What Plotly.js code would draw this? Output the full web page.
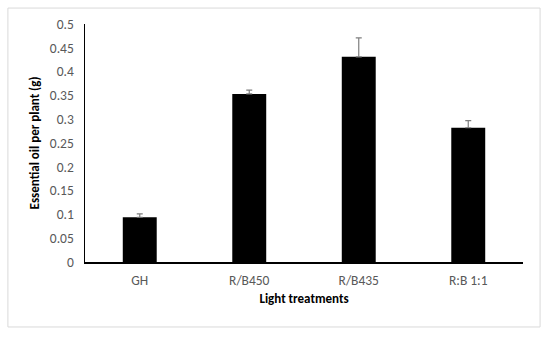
<!DOCTYPE html>
<html><head><meta charset="utf-8">
<script src="https://cdn.plot.ly/plotly-3.0.1.min.js"></script>
<style>html,body{margin:0;padding:0;background:#fff}#chart{width:550px;height:338px}</style>
</head><body><div id="chart"></div>
<script>
const categories = ["GH", "R/B450", "R/B435", "R:B 1:1"];
const values = [0.094, 0.353, 0.431, 0.282];
const errorsPlus = [0.007, 0.008, 0.040, 0.015];
const errorsMinus = [0, 0, 0, 0];

const trace = {
  type: "bar",
  x: categories,
  y: values,
  marker: {color: "#000000"},
  width: 0.31,
  error_y: {type: "data", symmetric: false, array: errorsPlus, arrayminus: errorsMinus,
    color: "#7f7f7f", thickness: 1.2, width: 3}
};
const font = "Carlito, Lato, 'Open Sans', sans-serif";
const layout = {
  width: 550, height: 338,
  margin: {l: 85, r: 27, t: 24, b: 76},
  paper_bgcolor: "#fff", plot_bgcolor: "#fff",
  showlegend: false,
  font: {family: font, size: 13, color: "#595959"},
  xaxis: {
    showline: true, linecolor: "#000", linewidth: 1.5, ticks: "outside", tickcolor: "rgba(0,0,0,0)", ticklen: 5, showgrid: false,
    tickfont: {size: 13.5, color: "#595959"},
    title: {text: "<b>Light treatments</b>", font: {size: 13, color: "#000"}, standoff: 6}
  },
  yaxis: {
    range: [0, 0.5], dtick: 0.05, showline: true, linecolor: "#000", linewidth: 1.5,
    ticks: "outside", tickcolor: "rgba(0,0,0,0)", ticklen: 7, showgrid: false, zeroline: false,
    tickfont: {size: 13.5, color: "#595959"},
    title: {text: "<b>Essential oil per plant (g)</b>", font: {size: 13, color: "#000"}, standoff: 7}
  },
  shapes: [{type: "rect", xref: "paper", yref: "paper", x0: -0.176, x1: 1.039, y0: -0.273, y1: 1.067,
    line: {color: "#d9d9d9", width: 1}, fillcolor: "rgba(0,0,0,0)", layer: "below"}]
};
Plotly.newPlot("chart", [trace], layout, {displayModeBar: false, staticPlot: true});
</script></body></html>
